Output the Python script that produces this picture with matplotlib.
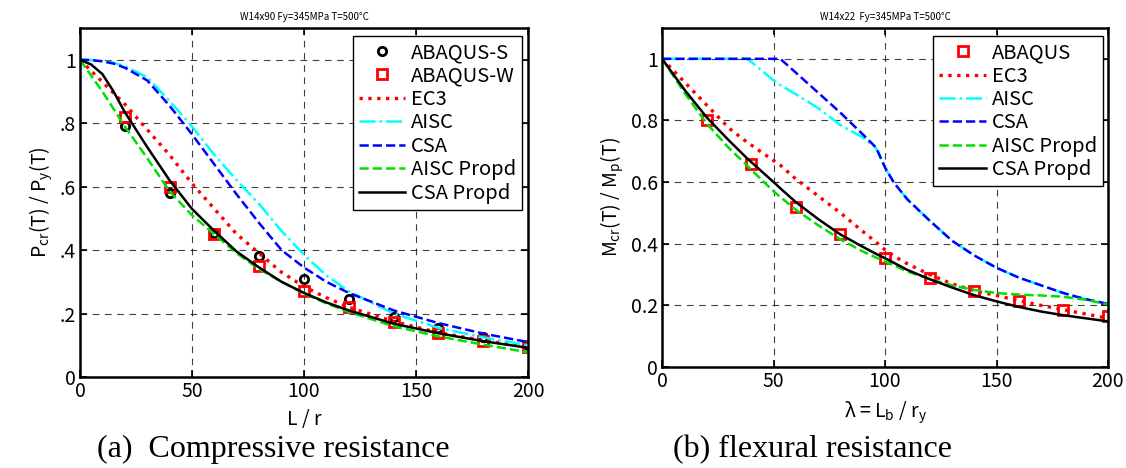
import matplotlib
matplotlib.use("Agg")
import matplotlib.pyplot as plt
import numpy as np

plt.rcParams['font.family'] = ['Noto Sans CJK JP', 'DejaVu Sans']
plt.rcParams['mathtext.default'] = 'regular'

# ---- (a) compressive resistance, W14x90 ----
xa = [0, 5, 10, 15, 20, 30, 40, 50, 60, 70, 80, 90, 100, 110, 120, 140, 160, 180, 200]
ec3_a = [1.0, 0.965, 0.93, 0.895, 0.86, 0.78, 0.70, 0.61, 0.53, 0.45, 0.39, 0.33, 0.285, 0.25, 0.22, 0.175, 0.14, 0.115, 0.095]
aisc_a = [1.0, 0.999, 0.997, 0.99, 0.98, 0.945, 0.87, 0.79, 0.70, 0.62, 0.545, 0.46, 0.385, 0.32, 0.27, 0.20, 0.155, 0.125, 0.10]
csa_a = [1.0, 0.999, 0.995, 0.988, 0.975, 0.935, 0.855, 0.765, 0.67, 0.575, 0.485, 0.40, 0.345, 0.30, 0.265, 0.21, 0.17, 0.137, 0.11]
aiscp_a = [1.0, 0.95, 0.90, 0.845, 0.79, 0.69, 0.585, 0.51, 0.45, 0.39, 0.34, 0.30, 0.263, 0.232, 0.205, 0.16, 0.128, 0.102, 0.078]
csap_a = [1.0, 0.985, 0.955, 0.90, 0.835, 0.725, 0.62, 0.53, 0.46, 0.395, 0.345, 0.30, 0.265, 0.235, 0.21, 0.168, 0.138, 0.113, 0.092]

xpts = [20, 40, 60, 80, 100, 120, 140, 160, 180, 200]
abq_s = [0.79, 0.58, 0.455, 0.38, 0.31, 0.245, 0.19, 0.155, 0.125, 0.10]
abq_w = [0.82, 0.60, 0.45, 0.35, 0.27, 0.22, 0.175, 0.14, 0.115, 0.095]

# ---- (b) flexural resistance, W14x22 ----
xb = [0, 10, 20, 30, 38, 40, 50, 53, 60, 70, 80, 90, 96, 100, 104, 110, 120, 130, 140, 150, 160, 170, 180, 190, 200]
ec3_b = [1.0, 0.925, 0.85, 0.775, 0.73, 0.72, 0.67, 0.655, 0.61, 0.555, 0.50, 0.44, 0.405, 0.38, 0.36, 0.335, 0.30, 0.27, 0.248, 0.232, 0.215, 0.20, 0.186, 0.172, 0.158]
aisc_b = [1.0, 1.0, 1.0, 1.0, 1.0, 0.99, 0.93, 0.915, 0.885, 0.84, 0.785, 0.745, 0.71, 0.647, 0.598, 0.544, 0.475, 0.41, 0.362, 0.322, 0.29, 0.265, 0.24, 0.22, 0.205]
csa_b = [1.0, 1.0, 1.0, 1.0, 1.0, 1.0, 1.0, 1.0, 0.955, 0.89, 0.825, 0.755, 0.712, 0.647, 0.598, 0.544, 0.475, 0.41, 0.362, 0.322, 0.29, 0.265, 0.24, 0.22, 0.205]
aiscp_b = [1.0, 0.89, 0.79, 0.71, 0.655, 0.64, 0.57, 0.552, 0.51, 0.46, 0.414, 0.375, 0.355, 0.342, 0.33, 0.31, 0.285, 0.265, 0.25, 0.24, 0.235, 0.232, 0.228, 0.218, 0.203]
csap_b = [1.0, 0.90, 0.81, 0.735, 0.678, 0.665, 0.60, 0.58, 0.535, 0.48, 0.43, 0.39, 0.367, 0.353, 0.338, 0.315, 0.285, 0.258, 0.233, 0.213, 0.195, 0.18, 0.168, 0.158, 0.148]

abq_b = [0.80, 0.66, 0.52, 0.43, 0.355, 0.29, 0.245, 0.215, 0.185, 0.165]

yticks = [0, 0.2, 0.4, 0.6, 0.8, 1]

fig = plt.figure(figsize=(11.26, 4.68), dpi=100)
ax1 = fig.add_axes([0.0710, 0.1944, 0.398, 0.7457])
ax2 = fig.add_axes([0.588, 0.2158, 0.396, 0.7244])


def style(ax):
    ax.set_xlim(0, 200)
    ax.set_ylim(0, 1.1)
    ax.set_xticks([0, 50, 100, 150, 200])
    ax.set_yticks(yticks)
    ax.grid(True, color='k', linestyle=(0, (6, 5)), linewidth=0.8, alpha=0.75)
    ax.tick_params(direction='in', top=True, right=True, labelsize=14, length=5, width=1.2, pad=3)
    for s in ax.spines.values():
        s.set_linewidth(1.8)


def legend(ax, anchor):
    ax.legend(loc='upper right', bbox_to_anchor=anchor, fontsize=14.5, fancybox=False,
              edgecolor='k', framealpha=1, borderaxespad=0, labelspacing=0.12,
              handlelength=2.3, handletextpad=0.3, borderpad=0.3)


lw = 1.8
ax1.plot(xpts, abq_s, 'o', mfc='none', mec='k', mew=2, ms=6, label='ABAQUS-S')
ax1.plot(xpts, abq_w, 's', mfc='none', mec='r', mew=2, ms=6.5, label='ABAQUS-W')
ax1.plot(xa, ec3_a, color='r', ls=':', lw=2.4, label='EC3')
ax1.plot(xa, aisc_a, color='cyan', ls='-.', lw=lw, label='AISC')
ax1.plot(xa, csa_a, color='b', ls='--', lw=lw, label='CSA')
ax1.plot(xa, aiscp_a, color='#00e000', ls='--', lw=lw, label='AISC Propd')
ax1.plot(xa, csap_a, color='k', ls='-', lw=lw, label='CSA Propd')
style(ax1)
ax1.set_yticklabels(['0', '.2', '.4', '.6', '.8', '1'])
ax1.set_xlabel('L / r', fontsize=14, labelpad=5)
ax1.set_ylabel('P$_{cr}$(T) / P$_y$(T)', fontsize=14)
ax1.set_title('W14x90 Fy=345MPa T=500°C', fontsize=7, pad=6)
legend(ax1, (0.987, 0.977))

ax2.plot(xpts, abq_b, 's', mfc='none', mec='r', mew=2, ms=6.5, label='ABAQUS')
ax2.plot(xb, ec3_b, color='r', ls=':', lw=2.4, label='EC3')
ax2.plot(xb, aisc_b, color='cyan', ls='-.', lw=lw, label='AISC')
ax2.plot(xb, csa_b, color='b', ls='--', lw=lw, label='CSA')
ax2.plot(xb, aiscp_b, color='#00e000', ls='--', lw=lw, label='AISC Propd')
ax2.plot(xb, csap_b, color='k', ls='-', lw=lw, label='CSA Propd')
style(ax2)
ax2.set_yticklabels(['0', '0.2', '0.4', '0.6', '0.8', '1'])
ax2.set_xlabel('λ = L$_b$ / r$_y$', fontsize=14, labelpad=5)
ax2.set_ylabel('M$_{cr}$(T) / M$_p$(T)', fontsize=14)
ax2.set_title('W14x22  Fy=345MPa T=500°C', fontsize=7, pad=6)
legend(ax2, (0.989, 0.976))

fig.text(0.0861, 0.0235, '(a)  Compressive resistance', family='Liberation Serif', fontsize=23, va='baseline')
fig.text(0.598, 0.0235, '(b) flexural resistance', family='Liberation Serif', fontsize=23, va='baseline')

fig.savefig('out.png', dpi=100)
